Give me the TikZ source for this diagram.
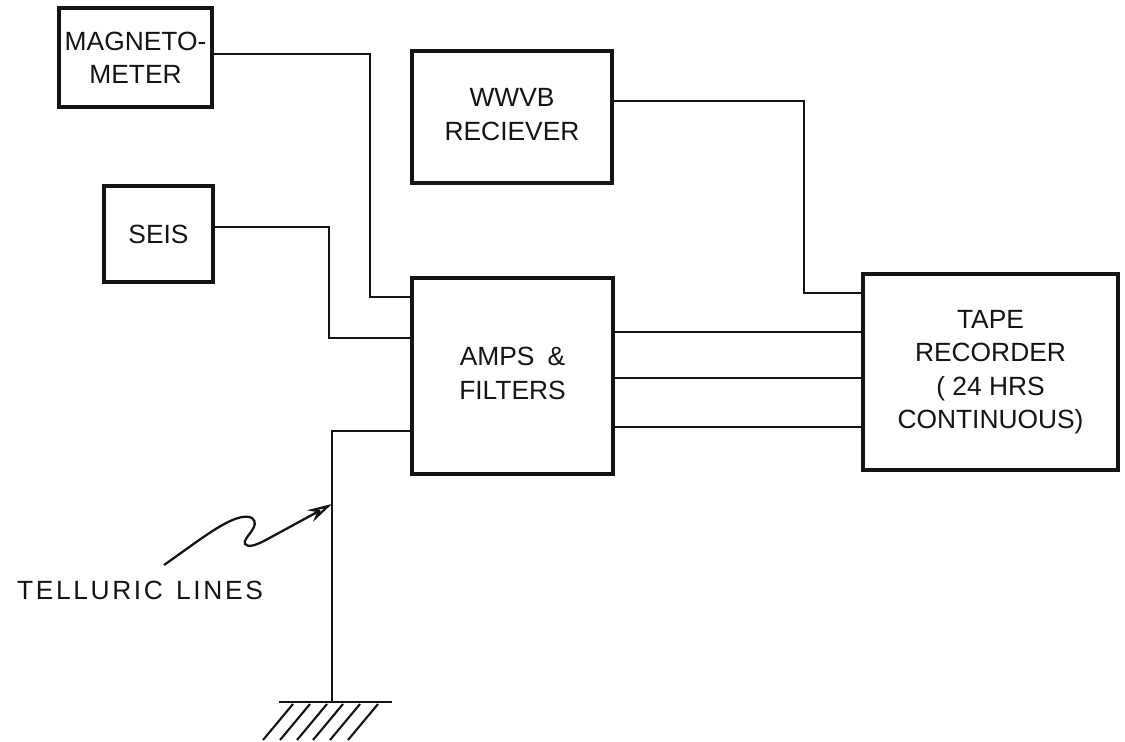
\documentclass[tikz,border=0pt]{standalone}
\usepackage{fontspec}
\setmainfont{Liberation Sans}
\usetikzlibrary{arrows.meta,positioning,calc}
\definecolor{ink}{HTML}{141414}
\tikzset{>=Stealth,unit/.style={draw=ink,line width=2pt,align=center,inner sep=2pt,text=ink,font=\fontsize{15}{19}\selectfont},wire/.style={draw=ink,line width=1.6pt},hatch/.style={draw=ink,line width=1.2pt},lettering/.style={text=ink,font=\fontsize{15}{19}\selectfont\addfontfeature{LetterSpace=10}}}

\begin{document}
\begin{tikzpicture}[x=0.02cm,y=-0.02cm]
\useasboundingbox (0,0) rectangle (1125,742);
% units
\node[unit,minimum width=3.06cm,minimum height=1.98cm] (mag) at (135.5,57.5) {MAGNETO-\\METER};
\node[unit,minimum width=4cm,minimum height=2.64cm] (wwvb) at (512,117) {\raisebox{-0.15cm}{\begin{tabular}{@{}c@{}}WWVB\\RECIEVER\end{tabular}}};
\node[unit,minimum width=2.18cm,minimum height=1.92cm] (seis) at (158.5,234) {SEIS};
\node[unit,minimum width=4.02cm,minimum height=3.92cm] (amps) at (512.5,376) {\raisebox{0.15cm}{\begin{tabular}{@{}c@{}}AMPS\enspace\&\\FILTERS\end{tabular}}};
\node[unit,minimum width=5.1cm,minimum height=3.92cm] (tape) at (990.5,372) {TAPE\\RECORDER\\( 24 HRS\\CONTINUOUS)};
\node[lettering] (tell) at (140,590) {TELLURIC\enspace LINES};
% bends
\coordinate (magbend) at (370,297);
\coordinate (seisbend) at (329,338);
\coordinate (wwvbbend) at (804,293);
\coordinate (tellbend) at (332,431);
\coordinate (gnd) at (332,702);
\coordinate (tip) at (332,504);
\coordinate (sq) at (164,565);
% wiring
\draw[wire] ([yshift=0.07cm]mag.east) -| (magbend) -- (magbend -| amps.west);
\draw[wire] ([yshift=0.14cm]seis.east) -| (seisbend) -- (seisbend -| amps.west);
\draw[wire] ([yshift=0.32cm]wwvb.east) -| (wwvbbend) -- (wwvbbend -| tape.west);
\foreach \dy in {0.88,-0.04,-1.02}{
  \coordinate (out) at ([yshift=\dy cm]amps.east);
  \draw[wire] (out) -- (out -| tape.west);
}
\draw[wire] (tellbend -| amps.west) -- (tellbend) -- (gnd);
% ground
\draw[wire] ([xshift=-1.06cm]gnd) -- ([xshift=1.2cm]gnd);
\foreach \x in {293,310,327,343,360,378}
  \draw[hatch] (\x,704) -- ++(-30,36);
% telluric pointer
\draw[wire,line width=1.3pt,-{Stealth[open,length=0.5cm,width=0.26cm]}] (sq) .. controls (200,540) and (236,510) .. (252,518) .. controls (262,526) and (242,538) .. (245,544) .. controls (248,548) and (256,545) .. (264,541) -- (tip);
\end{tikzpicture}
\end{document}
